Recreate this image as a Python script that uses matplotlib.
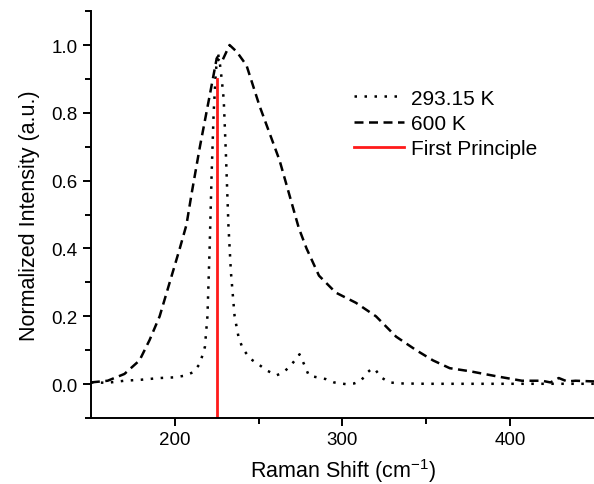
import numpy as np
import matplotlib.pyplot as plt

plt.rcParams['font.family'] = ['Liberation Sans', 'DejaVu Sans']
plt.rcParams['mathtext.fontset'] = 'custom'
plt.rcParams['mathtext.rm'] = 'Liberation Sans'
plt.rcParams['mathtext.it'] = 'Liberation Sans:italic'

# 293.15 K spectrum (dotted)
x_293 = [150, 160, 170, 180, 191, 200, 206, 211, 215, 218, 219.5, 220.8, 222, 223.2, 224.5,
         225.6, 226.8, 228, 229.2, 230.5, 232, 233.5, 235.7, 238, 240.5, 245, 250.6, 255,
         260.7, 265, 270, 274.4, 277, 280, 285, 290, 295, 302, 307, 311, 315, 317.9,
         320, 323, 328, 335, 350, 370, 390, 410, 430, 450]
y_293 = [0.005, 0.004, 0.01, 0.013, 0.018, 0.02, 0.025, 0.035, 0.06, 0.11, 0.2, 0.4, 0.62,
         0.8, 0.92, 0.98, 0.95, 0.9, 0.84, 0.68, 0.47, 0.33, 0.2, 0.14, 0.105, 0.075, 0.056,
         0.04, 0.026, 0.035, 0.06, 0.088, 0.06, 0.025, 0.02, 0.015, 0.005, 0.0, 0.002,
         0.01, 0.035, 0.047, 0.04, 0.02, 0.005, 0.002, 0.001, 0.001, 0.001, 0.001, 0.001, 0.001]

# 600 K spectrum (dashed)
x_600 = [150, 160, 170, 179, 185, 191, 197, 203, 207, 210, 215, 220.8, 225, 228, 232.7,
         237, 242.8, 250.6, 262.5, 274, 278.6, 286, 296, 308, 320, 332, 344, 354, 364,
         376, 392, 407, 419, 424, 429, 434, 439, 450]
y_600 = [0.005, 0.01, 0.03, 0.07, 0.13, 0.2, 0.3, 0.4, 0.47, 0.56, 0.7, 0.85, 0.96, 0.95,
         1.0, 0.98, 0.94, 0.82, 0.66, 0.46, 0.4, 0.32, 0.27, 0.24, 0.2, 0.14, 0.1, 0.07,
         0.047, 0.038, 0.023, 0.01, 0.01, 0.005, 0.018, 0.008, 0.01, 0.008]

# first-principles line
fp_x = 225
fp_top = 0.9

fig = plt.figure(figsize=(5.94, 4.85), dpi=100)
ax = fig.add_axes([0.153, 0.136, 0.847, 0.839])

ax.plot(x_293, y_293, color='black', lw=1.8, linestyle=(0, (1, 3)), label='293.15 K')
ax.plot(x_600, y_600, color='black', lw=1.8, linestyle=(0, (3.6, 2.2)), label='600 K')
ax.plot([fp_x, fp_x], [-0.1, fp_top], color='#ff1a1a', lw=2, label='First Principle')

ax.set_xlim(150, 450)
ax.set_ylim(-0.1, 1.1)
ax.set_xticks([200, 300, 400])
ax.set_xticks([250, 350], minor=True)
ax.set_yticks([0.0, 0.2, 0.4, 0.6, 0.8, 1.0])
ax.set_yticks([-0.1, 0.1, 0.3, 0.5, 0.7, 0.9, 1.1], minor=True)
ax.spines['top'].set_visible(False)
ax.spines['right'].set_visible(False)
for s in ['left', 'bottom']:
    ax.spines[s].set_linewidth(1.4)
ax.tick_params(which='major', direction='out', length=6, width=1.4, labelsize=13.5)
ax.tick_params(which='minor', direction='out', length=4, width=1.4)
ax.set_xlabel('Raman Shift (cm$^{-1}$)', fontsize=15.5, labelpad=6)
ax.set_ylabel('Normalized Intensity (a.u.)', fontsize=15.5, labelpad=8)

ax.legend(loc='upper left', bbox_to_anchor=(0.503, 0.835), frameon=False, fontsize=15,
          handlelength=2.4, handletextpad=0.3, labelspacing=0.3, borderpad=0)

fig.savefig('out.png', dpi=100)
